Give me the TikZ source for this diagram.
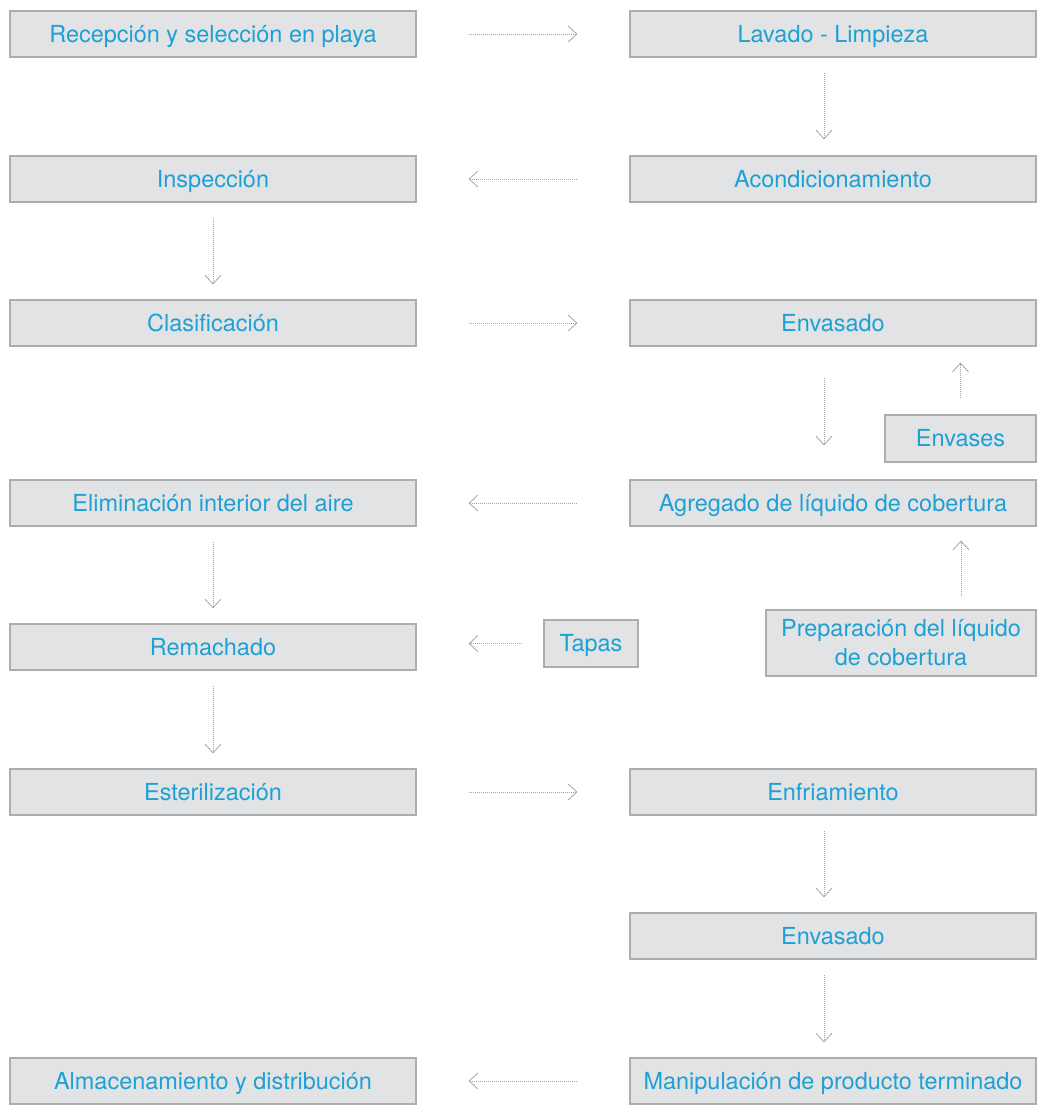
\documentclass[tikz,border=0pt]{standalone}
\usepackage{fontspec}
\setmainfont{TeX Gyre Heros}
\usetikzlibrary{arrows.meta}
\definecolor{txt}{HTML}{1EA0D5}
\definecolor{boxfill}{HTML}{E2E3E5}
\definecolor{boxline}{HTML}{ADADAD}
\definecolor{arr}{HTML}{A5A5A5}
\begin{document}
\begin{tikzpicture}[x=0.75pt,y=-0.75pt,
  basebox/.style={draw=boxline,line width=0.9pt,fill=boxfill,text=txt,
    minimum width=304.5pt,minimum height=34.5pt,inner sep=0pt,align=center,
    font=\fontsize{17.6}{21.75}\selectfont},
  box/.style={basebox,text height=12.6pt,text depth=0pt},
  flow/.style={draw=arr,line width=0.6pt,dash pattern=on 0.75pt off 0.75pt,
    -{Straight Barb[length=6.5pt,width=12pt,line width=0.6pt]}}]
\useasboundingbox (0,0) rectangle (1040,1108);
% left column
\node[box] (a1) at (213,34) {Recepción y selección en playa};
\node[box] (a2) at (213,179) {Inspección};
\node[box] (a3) at (213,323) {Clasificación};
\node[box] (a4) at (213,503) {Eliminación interior del aire};
\node[box] (a5) at (213,647) {Remachado};
\node[box] (a6) at (213,792) {Esterilización};
\node[box] (a7) at (213,1081) {Almacenamiento y distribución};
% right column
\node[box] (b1) at (833,34) {Lavado - Limpieza};
\node[box] (b2) at (833,179) {Acondicionamiento};
\node[box] (b3) at (833,323) {Envasado};
\node[box] (b4) at (833,503) {Agregado de líquido de cobertura};
\node[box] (b6) at (833,792) {Enfriamiento};
\node[box] (b7) at (833,936) {Envasado};
\node[box] (b8) at (833,1081) {Manipulación de producto terminado};
% side nodes
\node[box,minimum width=113.25pt,minimum height=35.25pt] (env) at (960.5,438.5) {Envases};
\node[basebox,minimum width=202.5pt,minimum height=49.5pt] (prep) at (901,643) {Preparación del líquido\\de cobertura};
\node[box,minimum width=70.5pt,minimum height=35.25pt] (tap) at (591,643.5) {Tapas};
% horizontal arrows
\draw[flow,shorten <=39pt,shorten >=39pt] (a1) -- (b1);
\draw[flow,shorten <=39pt,shorten >=39pt] (b2) -- (a2);
\draw[flow,shorten <=39pt,shorten >=39pt] (a3) -- (b3);
\draw[flow,shorten <=39pt,shorten >=39pt] (b4) -- (a4);
\draw[flow,shorten <=15.75pt,shorten >=39pt] (tap.west) -- (tap.west -| a5.east);
\draw[flow,shorten <=39pt,shorten >=39pt] (a6) -- (b6);
\draw[flow,shorten <=39pt,shorten >=39pt] (b8) -- (a7);
% left vertical arrows
\draw[flow,shorten <=11.25pt,shorten >=11.25pt] (a2) -- (a3);
\draw[flow,shorten <=11.25pt,shorten >=11.25pt] (a4) -- (a5);
\draw[flow,shorten <=11.25pt,shorten >=11.25pt] (a5) -- (a6);
% right vertical arrows
\draw[flow,shorten <=11.25pt,shorten >=12pt] ([xshift=-6.75pt]b1.south) -- ([xshift=-6.75pt]b2.north);
\draw[flow,shorten <=23.25pt,shorten >=25.5pt] ([xshift=-6.75pt]b3.south) -- ([xshift=-6.75pt]b4.north);
\draw[flow,shorten <=11.25pt,shorten >=11.25pt] ([xshift=-6.75pt]b6.south) -- ([xshift=-6.75pt]b7.north);
\draw[flow,shorten <=11.25pt,shorten >=11.25pt] ([xshift=-6.75pt]b7.south) -- ([xshift=-6.75pt]b8.north);
% upward arrows
\draw[flow,shorten <=12pt,shorten >=12pt] (env.north) -- (env.north |- b3.south);
\draw[flow,shorten <=9.75pt,shorten >=10.5pt] ([xshift=45pt]prep.north) -- ([xshift=45pt]prep.north |- b4.south);
\end{tikzpicture}
\end{document}
